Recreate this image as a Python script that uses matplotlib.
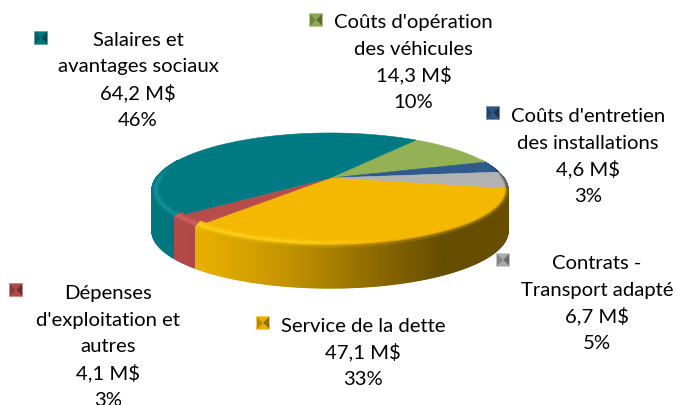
import numpy as np
import matplotlib
matplotlib.use("Agg")
import matplotlib.pyplot as plt
from matplotlib.collections import PolyCollection
from matplotlib.patches import Polygon, Rectangle

plt.rcParams['font.family'] = ['Lato', 'DejaVu Sans']

# clockwise from the teal/green boundary
names = [["Coûts d'opération", "des véhicules"], ["Coûts d'entretien", "des installations"],
         ["Contrats -", "Transport adapté"], ["Service de la dette"],
         ["Dépenses", "d'exploitation et", "autres"], ["Salaires et", "avantages sociaux"]]
amounts = [14.3, 4.6, 6.7, 47.1, 4.1, 64.2]
amount_labels = ["14,3 M$", "4,6 M$", "6,7 M$", "47,1 M$", "4,1 M$", "64,2 M$"]
pct_labels = ["10%", "3%", "5%", "33%", "3%", "46%"]
colors = ["#94b255", "#2f5a8c", "#b2b2b2", "#f5b800", "#b84c4a", "#007a82"]

label_x = [413.5, 588, 597, 363, 108, 138]
label_y = [28, 122, 269, 332, 299, 45.5]
key_x = [316, 493, 503, 263, 16, 41]
key_y = [21, 114, 261, 324, 291, 39]

start_angle = 54.6
cx, cy = 330.0, 179.0
radius = 174.0
squash = 54.5
persp = 0.21
depth = 41.0
bevel = 8.0
line_step = 26.7


def project(t):
    x, y = np.cos(t), np.sin(t)
    w = 1 + persp * y
    return cx + radius * x / w, cy - squash * y / w


def shade(sx):
    # wall gets darker towards the right
    return np.interp(sx, [150, 200, 260, 320, 380, 440, 510], [0.97, 0.95, 0.85, 0.72, 0.56, 0.42, 0.42])


def glow(sx):
    return np.interp(sx, [150, 300, 400], [1.0, 1.0, 0.0])


def slice_angles(i):
    n = max(int(abs(edges[i + 1] - edges[i]) * 120), 3)
    return np.linspace(edges[i], edges[i + 1], n)


fig = plt.figure(figsize=(6.77, 4.06), dpi=100)
ax = fig.add_axes([0, 0, 1, 1])
ax.set_xlim(0, 677)
ax.set_ylim(406, 0)
ax.axis("off")

fracs = np.array(amounts) / sum(amounts)
edges = np.radians(start_angle - 360 * np.concatenate([[0], np.cumsum(fracs)]))

# side wall
for i, col in enumerate(colors):
    base = np.array(matplotlib.colors.to_rgb(col))
    ts = slice_angles(i)
    polys, cols = [], []
    for a, b in zip(ts[:-1], ts[1:]):
        if np.sin((a + b) / 2) > 0.02:
            continue
        xa, ya = project(a)
        xb, yb = project(b)
        polys.append([(xa, ya), (xb, yb), (xb, yb + depth), (xa, ya + depth)])
        cols.append(base * shade((xa + xb) / 2))
    if polys:
        ax.add_collection(PolyCollection(polys, facecolors=cols, edgecolors=cols, linewidths=0.9))

# top face
for i, col in enumerate(colors):
    ts = np.linspace(edges[i], edges[i + 1], 120)
    xs, ys = project(ts)
    ax.add_patch(Polygon(np.column_stack([np.r_[cx, xs], np.r_[cy, ys]]), closed=True,
                         facecolor=col, edgecolor=col, linewidth=0.4))

# lit bevel inside the rim, front half only
steps = np.linspace(0, 1, 9)
for i, col in enumerate(colors):
    base = np.array(matplotlib.colors.to_rgb(col))
    ts = slice_angles(i)
    polys, cols = [], []
    for a, b in zip(ts[:-1], ts[1:]):
        m = (a + b) / 2
        fade = np.clip((0.35 - np.sin(m)) / 0.35, 0, 1)
        if fade <= 0:
            continue
        xa, ya = project(a)
        xb, yb = project(b)
        wall = base * shade((xa + xb) / 2)
        lit = np.clip(base + 0.1 * glow((xa + xb) / 2), 0, 1)
        for u0, u1 in zip(steps[:-1], steps[1:]):
            d0, d1 = bevel * (1 - u0) * fade, bevel * (1 - u1) * fade
            u = (u0 + u1) / 2
            if u < 0.6:
                c = base + (lit - base) * u / 0.6
            else:
                c = lit + (wall - lit) * (u - 0.6) / 0.4
            c = base + (c - base) * fade
            polys.append([(xa - d0 * np.cos(a), ya + d0 * np.sin(a)), (xb - d0 * np.cos(b), yb + d0 * np.sin(b)),
                          (xb - d1 * np.cos(b), yb + d1 * np.sin(b)), (xa - d1 * np.cos(a), ya + d1 * np.sin(a))])
            cols.append(np.clip(c, 0, 1))
    if polys:
        ax.add_collection(PolyCollection(polys, facecolors=cols, edgecolors=cols, linewidths=0.5))

# labels and bevelled legend keys
for i in range(len(names)):
    lines = names[i] + [amount_labels[i], pct_labels[i]]
    for j, line in enumerate(lines):
        ax.text(label_x[i], label_y[i] + j * line_step, line, ha="center", va="baseline",
                fontsize=14.6, color="black", clip_on=False)
    base = np.array(matplotlib.colors.to_rgb(colors[i]))
    k = 6.0
    kx, ky = key_x[i], key_y[i]
    corners = [(kx - k, ky - k), (kx + k, ky - k), (kx + k, ky + k), (kx - k, ky + k)]
    tones = [base * 0.95, base * 0.6, base * 0.95, base * 0.75]
    ax.add_patch(Rectangle((kx - k, ky - k), 2 * k, 2 * k, facecolor="none",
                           edgecolor=base * 0.6 + 0.4, linewidth=1.4))
    for j in range(4):
        tri = [corners[j], corners[(j + 1) % 4], (kx, ky)]
        ax.add_patch(Polygon(tri, closed=True, facecolor=tones[j], edgecolor=tones[j], linewidth=0.2))

fig.savefig("out.png", dpi=100)
